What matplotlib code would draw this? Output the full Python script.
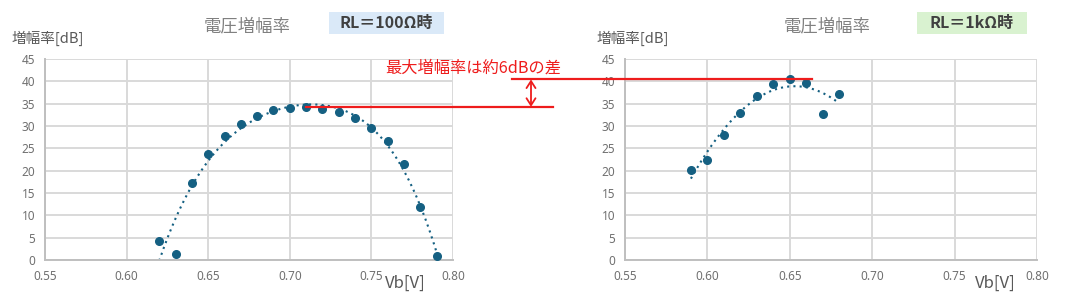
import numpy as np
import matplotlib
matplotlib.use("Agg")
import matplotlib.pyplot as plt
from matplotlib.patches import Rectangle

plt.rcParams['font.family'] = ['Noto Sans CJK JP', 'DejaVu Sans']

# Measured voltage gain vs base voltage
vb_100 = [0.62, 0.63, 0.64, 0.65, 0.66, 0.67, 0.68, 0.69, 0.70, 0.71,
          0.72, 0.73, 0.74, 0.75, 0.76, 0.77, 0.78, 0.79]
gain_100 = [4.3, 1.3, 17.3, 23.7, 27.8, 30.4, 32.2, 33.5, 34.0, 34.2,
            33.9, 33.1, 31.8, 29.6, 26.6, 21.4, 11.9, 0.9]

vb_1k = [0.59, 0.60, 0.61, 0.62, 0.63, 0.64, 0.65, 0.66, 0.67, 0.68]
gain_1k = [20.1, 22.4, 27.9, 32.9, 36.7, 39.3, 40.5, 39.6, 32.6, 37.2]

x_ticks = [0.55, 0.60, 0.65, 0.70, 0.75, 0.80]
y_ticks = [0, 5, 10, 15, 20, 25, 30, 35, 40, 45]

title = "電圧増幅率"
ylabel = "増幅率[dB]"
xlabel = "Vb[V]"
tag_100 = "RL＝100Ω時"
tag_1k = "RL＝1kΩ時"
note = "最大増幅率は約6dBの差"

W, H, DPI = 1075, 301, 100
MARK = "#156082"
GRID = "#d9d9d9"
TXT = "#595959"
RED = "#ee1c1c"

fig = plt.figure(figsize=(W / DPI, H / DPI), dpi=DPI)
fig.patch.set_facecolor("white")


def px_axes(x0, y0, x1, y1):
    return fig.add_axes([x0 / W, 1 - y1 / H, (x1 - x0) / W, (y1 - y0) / H])


def draw_panel(ax, xs, ys, order):
    ax.set_xlim(0.55, 0.80)
    ax.set_ylim(0, 45)
    ax.set_xticks(x_ticks)
    ax.set_yticks(y_ticks)
    ax.set_xticklabels([f"{v:.2f}" for v in x_ticks])
    ax.grid(True, color=GRID, linewidth=1.4)
    ax.set_axisbelow(True)
    for s in ("top", "right"):
        ax.spines[s].set_visible(False)
    for s in ("left", "bottom"):
        ax.spines[s].set_color("#bfbfbf")
        ax.spines[s].set_linewidth(1.4)
    ax.tick_params(length=0, labelsize=8.5, colors="#707070", pad=7)
    for lab in ax.get_xticklabels() + ax.get_yticklabels():
        lab.set_family(['Noto Sans', 'DejaVu Sans'])
    # polynomial trendline
    c = np.polyfit(xs, ys, order)
    xf = np.linspace(min(xs), max(xs), 200)
    ax.plot(xf, np.polyval(c, xf), color=MARK, linestyle=(0, (1, 2)),
            linewidth=1.5, zorder=2)
    ax.plot(xs, ys, "o", color=MARK, markersize=5.5, zorder=3)


axL = px_axes(45, 59, 453, 260)
axR = px_axes(625, 59, 1037, 260)
draw_panel(axL, vb_100, gain_100, 4)
draw_panel(axR, vb_1k, gain_1k, 2)

# overlay in pixel coordinates for texts and annotation
ov = fig.add_axes([0, 0, 1, 1], zorder=10)
ov.set_xlim(0, W)
ov.set_ylim(H, 0)
ov.axis("off")
ov.patch.set_alpha(0)

for cx in (247, 827):
    ov.text(cx, 26, title, ha="center", va="center", fontsize=12.5, color="#808080")
ov.text(12, 38, ylabel, ha="left", va="center", fontsize=10.5, color=TXT)
ov.text(597, 38, ylabel, ha="left", va="center", fontsize=10.5, color=TXT)
ov.text(405, 283, xlabel, ha="center", va="center", fontsize=12, color=TXT)
ov.text(995, 283, xlabel, ha="center", va="center", fontsize=12, color=TXT)

# condition tags
ov.add_patch(Rectangle((329, 12), 115, 22, fc="#dae9f8", ec="none"))
ov.add_patch(Rectangle((917, 12), 110, 22, fc="#d9f2d0", ec="none"))
ov.text(386.5, 23, tag_100, ha="center", va="center", fontsize=11.5,
        fontweight="bold", color="#404040")
ov.text(972, 23, tag_1k, ha="center", va="center", fontsize=11.5,
        fontweight="bold", color="#404040")


def to_px(ax, x, y):
    dx, dy = ax.transData.transform((x, y))
    return ov.transData.inverted().transform((dx, dy))


iL = int(np.argmax(gain_100))
iR = int(np.argmax(gain_1k))
x_lo, y_lo = to_px(axL, vb_100[iL], gain_100[iL])
x_hi_end, y_hi = to_px(axR, vb_1k[iR] + 0.0135, gain_1k[iR])

# reference lines at the two maxima
ov.plot([x_lo, 553], [y_lo, y_lo], color=RED, linewidth=1.6)
ov.plot([512, x_hi_end], [y_hi, y_hi], color=RED, linewidth=1.6)

# double-headed arrow marking the difference
ax_x = 531
top, bot = y_hi + 2, y_lo - 2
arrow_kw = dict(color=RED, linewidth=1.3, solid_capstyle="round",
                solid_joinstyle="miter")
ov.plot([ax_x, ax_x], [top, bot], **arrow_kw)
ov.plot([ax_x - 4.5, ax_x, ax_x + 4.5], [top + 7, top, top + 7], **arrow_kw)
ov.plot([ax_x - 4.5, ax_x, ax_x + 4.5], [bot - 7, bot, bot - 7], **arrow_kw)

ov.text(385, 68, note, ha="left", va="center", fontsize=11.7, color=RED)

fig.savefig("out.png", dpi=DPI, facecolor="white")
